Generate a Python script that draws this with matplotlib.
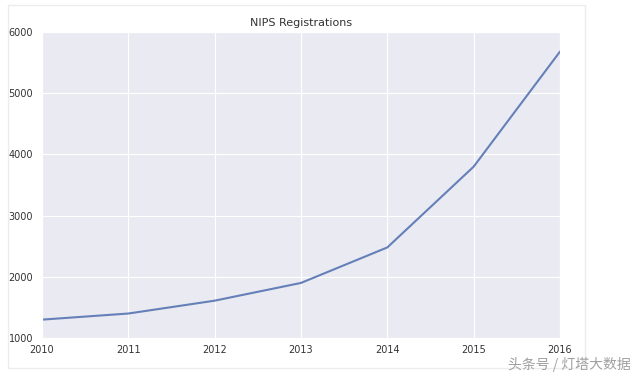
import matplotlib
matplotlib.use("Agg")
import matplotlib.pyplot as plt
import seaborn as sns
from matplotlib.patches import Rectangle

years = [2010, 2011, 2012, 2013, 2014, 2015, 2016]
registrations = [1300, 1400, 1610, 1900, 2480, 3800, 5680]
title = "NIPS Registrations"
watermark = "头条号 / 灯塔大数据"

sns.set_style("darkgrid")
plt.rcParams['font.family'] = ['DejaVu Sans', 'Noto Sans CJK SC']

fig = plt.figure(figsize=(6.4, 3.76), dpi=100)
fig.patches.append(Rectangle((8/640, 1 - 368/376), 577/640, 363/376, transform=fig.transFigure,
                             fill=False, edgecolor="#ececec", linewidth=1.0))
ax = fig.add_axes([42/640, 38/376, 518/640, 306/376])
ax.plot(years, registrations, color="#6580b8", linewidth=1.5)
ax.set_xlim(2010, 2016)
ax.set_ylim(1000, 6000)
ax.set_xticks(years)
ax.set_xticklabels([str(y) for y in years])
ax.set_yticks([1000, 2000, 3000, 4000, 5000, 6000])
ax.tick_params(axis='both', labelsize=7, colors="#333333", pad=3)
ax.tick_params(axis='x', pad=1.5)
ax.set_title(title, fontsize=8, color="#333333", pad=4)
fig.text(631/640, 1 - 364/376, watermark, family=['Noto Sans CJK SC', 'DejaVu Sans'],
         fontsize=10, color="#a0a0a0", ha="right", va="center")
fig.savefig("out.png", dpi=100)
